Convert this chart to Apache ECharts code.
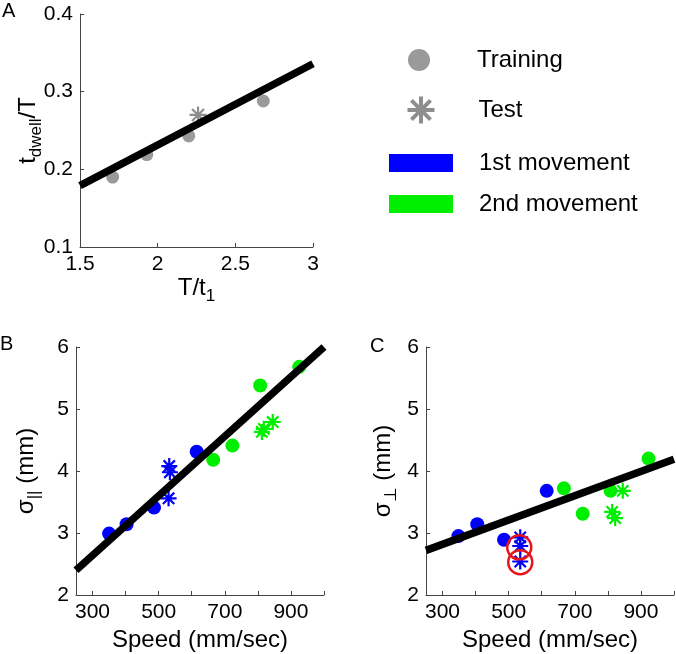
<!DOCTYPE html>
<html>
<head>
<meta charset="utf-8">
<script src="https://cdn.jsdelivr.net/npm/echarts@6/dist/echarts.min.js"></script>
<style>
html,body{margin:0;padding:0;background:#fff;}
#chart{width:676px;height:654px;}
</style>
</head>
<body>
<div id="chart"></div>
<script>
// ---------- Panel A data ----------
const aTrainX = [1.71, 1.93, 2.20, 2.68];
const aTrainY = [0.190, 0.219, 0.243, 0.288];
const aTestX = [2.26];
const aTestY = [0.270];
const aFitX = [1.5, 3.0];
const aFitY = [0.179, 0.336];
const aXTicks = [1.5, 2, 2.5, 3];
const aYTicks = [0.1, 0.2, 0.3, 0.4];

// ---------- Panel B data ----------
const bBlueCircX = [350, 403, 486, 615];
const bBlueCircY = [2.99, 3.14, 3.41, 4.31];
const bBlueStarX = [532, 534, 530];
const bBlueStarY = [4.08, 3.98, 3.56];
const bGreenCircX = [665, 723, 807, 925];
const bGreenCircY = [4.18, 4.41, 5.38, 5.68];
const bGreenStarX = [812, 818, 845];
const bGreenStarY = [4.63, 4.68, 4.79];
const bFitX = [250, 1000];
const bFitY = [2.40, 6.00];

// ---------- Panel C data ----------
const cBlueCircX = [348, 405, 486, 615];
const cBlueCircY = [2.95, 3.14, 2.89, 3.68];
const cBlueStarX = [535, 535, 535];
const cBlueStarY = [2.93, 2.79, 2.54];
const cGreenCircX = [667, 724, 808, 923];
const cGreenCircY = [3.72, 3.31, 3.68, 4.20];
const cGreenStarX = [845, 813, 822];
const cGreenStarY = [3.68, 3.34, 3.24];
const cOutlierX = [532, 535];
const cOutlierY = [2.77, 2.53];
const cFitX = [250, 1000];
const cFitY = [2.72, 4.19];

// ---------- shared ticks for B and C ----------
const speedTicks = [300, 400, 500, 600, 700, 800, 900, 1000];
const speedLabels = [300, 500, 700, 900];
const sigmaTicks = [2, 3, 4, 5, 6];

const legendShapes = ['Training', 'Test'];
const legendColors = ['1st movement', '2nd movement'];

const FONT = "'Liberation Sans', Arial, Helvetica, sans-serif";
const BLUE = '#0000ff';
const GREEN = '#00ee00';
const GRAY = '#9a9a9a';
const STAR = 'path://M0,-10L0,10M-10,0L10,0M-7.07,-7.07L7.07,7.07M-7.07,7.07L7.07,-7.07';

function pts(xs, ys) { return xs.map((x, i) => [x, ys[i]]); }

const rich = {
  n: {fontSize: 24, lineHeight: 24, verticalAlign: 'top', fontFamily: FONT, color: '#000'},
  s: {fontSize: 17, lineHeight: 17, padding: [12, 0, 0, 0], verticalAlign: 'top', fontFamily: FONT, color: '#000'}
};

const axisLine = {show: true, lineStyle: {color: '#444', width: 1}};
const tick = {show: true, inside: true, length: 4, lineStyle: {color: '#444', width: 1}};
const lbl = {color: '#000', fontSize: 21, fontFamily: FONT, margin: 7};

function xAx(grid, min, max, name, gap, extra) {
  return Object.assign({
    type: 'value', gridIndex: grid, min: min, max: max,
    name: name, nameLocation: 'middle', nameGap: gap, nameMoveOverlap: false,
    nameTextStyle: {rich: rich},
    axisLine: axisLine, axisTick: tick, axisLabel: lbl, splitLine: {show: false}
  }, extra);
}
function yAx(grid, min, max, name, gap, extra) {
  return Object.assign({
    type: 'value', gridIndex: grid, min: min, max: max,
    name: name, nameLocation: 'middle', nameGap: gap, nameRotate: 90, nameMoveOverlap: false,
    nameTextStyle: {rich: rich},
    axisLine: axisLine, axisTick: tick, axisLabel: lbl, splitLine: {show: false}
  }, extra);
}

function scatter(name, xi, xs, ys, color, isStar, size) {
  return {
    type: 'scatter', name: name, xAxisIndex: xi, yAxisIndex: xi,
    data: pts(xs, ys), symbol: isStar ? STAR : 'circle', symbolSize: size,
    itemStyle: isStar ? {color: color, borderColor: color, borderWidth: 2.2, opacity: 1}
                      : {color: color, borderWidth: 0, opacity: 1},
    silent: true, z: 2
  };
}
function fit(xi, xs, ys) {
  return {
    type: 'line', xAxisIndex: xi, yAxisIndex: xi, data: pts(xs, ys),
    symbol: 'none', lineStyle: {color: '#000', width: 7.5}, silent: true, z: 5
  };
}

const legendText = (lh, padLeft) => ({fontSize: 24, lineHeight: lh, fontFamily: FONT, color: '#000', padding: [0, 0, 0, padLeft]});
const letter = {fontSize: 20, fontWeight: 'normal', fontFamily: FONT, color: '#000'};

const chart = echarts.init(document.getElementById('chart'), null, {renderer: 'canvas'});
chart.setOption({
  animation: false,
  backgroundColor: '#fff',
  title: [
    {text: 'A', left: 2, top: 1, padding: 0, textStyle: letter},
    {text: 'B', left: 0, top: 334, padding: 0, textStyle: letter},
    {text: 'C', left: 370, top: 336, padding: 0, textStyle: letter}
  ],
  legend: [
    {orient: 'vertical', left: 408, top: 48, itemWidth: 22, itemHeight: 22, padding: 0,
     selectedMode: false,
     data: [{name: legendShapes[0], icon: 'circle', itemStyle: {color: GRAY, borderWidth: 0}}],
     textStyle: legendText(22, 42)},
    {orient: 'vertical', left: 405.5, top: 94.5, itemWidth: 27, itemHeight: 27, padding: 0,
     selectedMode: false,
     data: [{name: legendShapes[1], icon: STAR, itemStyle: {color: '#8e8e8e', borderColor: '#8e8e8e', borderWidth: 4}}],
     textStyle: legendText(27, 39)},
    {orient: 'vertical', left: 389, top: 151, itemWidth: 64, itemHeight: 18, itemGap: 17, padding: 0,
     selectedMode: false,
     data: [{name: legendColors[0], icon: 'rect', itemStyle: {color: BLUE, borderWidth: 0}},
            {name: legendColors[1], icon: 'rect', itemStyle: {color: GREEN, borderWidth: 0}}],
     textStyle: legendText(18, 21)}
  ],
  grid: [
    {left: 80, top: 14, width: 233, height: 233, outerBoundsMode: 'none', containLabel: false},
    {left: 76, top: 347, width: 248, height: 248, outerBoundsMode: 'none', containLabel: false},
    {left: 426, top: 347, width: 248, height: 248, outerBoundsMode: 'none', containLabel: false}
  ],
  xAxis: [
    xAx(0, 1.5, 3, '{n|T/t}{s|1}', 29, {interval: 0.5}),
    xAx(1, 250, 1000, '{n|Speed (mm/sec)}', 33, {
      axisTick: Object.assign({}, tick, {customValues: speedTicks}),
      axisLabel: Object.assign({}, lbl, {customValues: speedLabels})}),
    xAx(2, 250, 1000, '{n|Speed (mm/sec)}', 33, {
      axisTick: Object.assign({}, tick, {customValues: speedTicks}),
      axisLabel: Object.assign({}, lbl, {customValues: speedLabels})})
  ],
  yAxis: [
    yAx(0, 0.1, 0.4, '{n|t}{s|dwell}{n|/T}', 40, {
      axisTick: Object.assign({}, tick, {customValues: aYTicks}),
      axisLabel: Object.assign({}, lbl, {customValues: aYTicks, formatter: v => v.toFixed(1)})}),
    yAx(1, 2, 6, '{n|σ}{s|||}{n| (mm)}', 38, {
      axisTick: Object.assign({}, tick, {customValues: sigmaTicks}),
      axisLabel: Object.assign({}, lbl, {customValues: sigmaTicks})}),
    yAx(2, 2, 6, '{n|σ}{s|⊥}{n| (mm)}', 31, {
      axisTick: Object.assign({}, tick, {customValues: sigmaTicks}),
      axisLabel: Object.assign({}, lbl, {customValues: sigmaTicks})})
  ],
  series: [
    scatter('Training', 0, aTrainX, aTrainY, GRAY, false, 13),
    scatter('Test', 0, aTestX, aTestY, '#8e8e8e', true, 17),
    fit(0, aFitX, aFitY),

    scatter('1st movement', 1, bBlueCircX, bBlueCircY, BLUE, false, 14),
    scatter('1st movement', 1, bBlueStarX, bBlueStarY, BLUE, true, 16),
    scatter('2nd movement', 1, bGreenCircX, bGreenCircY, GREEN, false, 14),
    scatter('2nd movement', 1, bGreenStarX, bGreenStarY, GREEN, true, 16),
    fit(1, bFitX, bFitY),

    scatter('1st movement', 2, cBlueCircX, cBlueCircY, BLUE, false, 14),
    scatter('1st movement', 2, cBlueStarX, cBlueStarY, BLUE, true, 16),
    scatter('2nd movement', 2, cGreenCircX, cGreenCircY, GREEN, false, 14),
    scatter('2nd movement', 2, cGreenStarX, cGreenStarY, GREEN, true, 16),
    fit(2, cFitX, cFitY),
    {
      type: 'scatter', name: 'outliers', xAxisIndex: 2, yAxisIndex: 2,
      data: pts(cOutlierX, cOutlierY), symbol: 'circle', symbolSize: 24,
      itemStyle: {color: 'rgba(0,0,0,0)', borderColor: '#e8141b', borderWidth: 2.5, opacity: 1},
      silent: true, z: 10
    }
  ]
});
</script>
</body>
</html>
